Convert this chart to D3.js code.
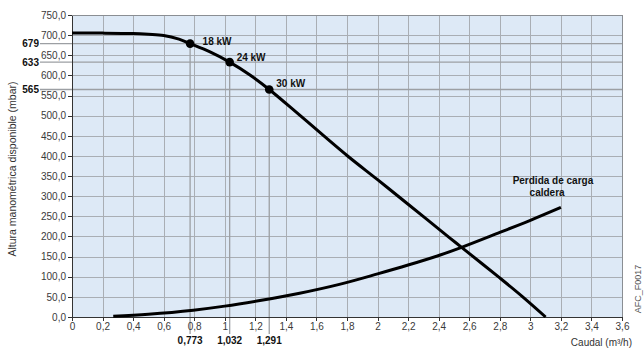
<!DOCTYPE html>
<meta charset="utf-8">
<style>
body { margin: 0; background: #fff; }
svg { font-family: "Liberation Sans", Arial, sans-serif; }
.grid line { stroke: #a9aeb4; stroke-width: 1px; shape-rendering: crispEdges; }
.axis text { font-size: 10px; fill: #3a3a3a; }
.axis path, .axis line { stroke: #333; shape-rendering: crispEdges; }
.mark { stroke: #9c9fa3; stroke-width: 1.3px; }
.curve { fill: none; stroke: #000; stroke-width: 3px; }
.lbl { font-size: 10px; font-weight: bold; fill: #111; }
</style>
<body>
<svg width="644" height="351"></svg>
<script src="https://cdn.jsdelivr.net/npm/d3@7"></script>
<script>
// pump curve (caudal m3/h, mbar)
var pumpQ = [0, 0.2, 0.4, 0.5, 0.6, 0.7, 0.773, 0.9, 1.032, 1.165, 1.291, 1.5, 1.8, 2.0, 2.2, 2.474, 2.55, 2.8, 2.95, 3.1];
var pumpH = [705, 705, 704, 702, 699, 690, 679, 659, 633, 601, 565, 498, 401, 341, 280, 196, 173, 97, 50, 0];

// boiler pressure loss
var lossQ = [0.27, 0.5, 0.794, 1.0, 1.23, 1.49, 1.75, 2.0, 2.2, 2.41, 2.55, 2.8, 3.0, 3.2];
var lossH = [2, 7, 17, 27, 41, 59, 81, 107, 129, 154, 173, 210, 240, 272];

// operating points
var ptQ = [0.773, 1.032, 1.291];
var ptH = [679, 633, 565];
var ptLabel = ["18 kW", "24 kW", "30 kW"];
var ptQText = ["0,773", "1,032", "1,291"];

var xTicks = d3.range(0, 3.61, 0.2);
var yTicks = d3.range(0, 751, 50);

var svg = d3.select("svg");
var x = d3.scaleLinear().domain([0, 3.6]).range([72, 622]);
var y = d3.scaleLinear().domain([0, 750]).range([317, 15]);
var comma = function(v, d) { return v.toFixed(d).replace(".", ","); };

svg.append("rect")
    .attr("x", x(0)).attr("y", y(750))
    .attr("width", x(3.6) - x(0)).attr("height", y(0) - y(750))
    .attr("fill", "#dde9f6");

var grid = svg.append("g").attr("class", "grid");
grid.selectAll(".v").data(xTicks).enter().append("line")
    .attr("x1", d => Math.round(x(d)) + 0.5).attr("x2", d => Math.round(x(d)) + 0.5)
    .attr("y1", y(750)).attr("y2", y(0));
grid.selectAll(".h").data(yTicks).enter().append("line")
    .attr("x1", x(0)).attr("x2", x(3.6))
    .attr("y1", d => Math.round(y(d)) + 0.5).attr("y2", d => Math.round(y(d)) + 0.5);

// marker lines for the operating points
svg.selectAll(".mh").data(ptH).enter().append("line")
    .attr("class", "mark")
    .attr("x1", 40).attr("x2", x(3.6))
    .attr("y1", d => y(d)).attr("y2", d => y(d));
svg.selectAll(".mv").data(ptQ).enter().append("line")
    .attr("class", "mark")
    .attr("x1", d => x(d)).attr("x2", d => x(d))
    .attr("y1", (d, i) => y(ptH[i])).attr("y2", 334);

svg.append("g").attr("class", "axis")
    .attr("transform", "translate(" + x(0) + ",0)")
    .call(d3.axisLeft(y).tickValues(yTicks).tickSize(4).tickFormat(d => comma(d, 1)))
    .call(g => g.selectAll("text").attr("dx", "1"));
svg.append("g").attr("class", "axis")
    .attr("transform", "translate(0," + y(0) + ")")
    .call(d3.axisBottom(x).tickValues(xTicks).tickSize(4).tickFormat(d => d3.format("~g")(+d.toFixed(1)).replace(".", ",")))
    .call(g => g.selectAll("text").attr("dy", "0.6em"));
svg.selectAll(".axis path").attr("stroke-width", 1.5);
svg.append("line")
    .attr("x1", x(3.6) + 0.5).attr("x2", x(3.6) + 0.5).attr("y1", y(750)).attr("y2", y(0))
    .attr("stroke", "#8a8e93");
svg.append("line")
    .attr("x1", x(0)).attr("x2", x(3.6)).attr("y1", y(750) + 0.5).attr("y2", y(750) + 0.5)
    .attr("stroke", "#8a8e93");

var line = d3.line().curve(d3.curveCatmullRom.alpha(0.5))
    .x(d => x(d[0])).y(d => y(d[1]));
svg.append("path").attr("class", "curve")
    .attr("d", line(pumpQ.map((q, i) => [q, pumpH[i]])));
svg.append("path").attr("class", "curve")
    .attr("d", line(lossQ.map((q, i) => [q, lossH[i]])));

svg.selectAll(".pt").data(ptQ).enter().append("circle")
    .attr("cx", d => x(d)).attr("cy", (d, i) => y(ptH[i])).attr("r", 4.3)
    .attr("fill", "#000");
var lblDx = [12.5, 7, 7], lblDy = [-2, -4.5, -6];
svg.selectAll(".ptl").data(ptLabel).enter().append("text")
    .attr("class", "lbl")
    .attr("x", (d, i) => x(ptQ[i]) + lblDx[i]).attr("y", (d, i) => y(ptH[i]) + lblDy[i])
    .attr("dy", "0.35em")
    .text(d => d);
svg.selectAll(".ptq").data(ptQText).enter().append("text")
    .attr("class", "lbl")
    .attr("x", d => x(+d.replace(",", "."))).attr("y", 344)
    .attr("text-anchor", "middle")
    .text(d => d);
svg.selectAll(".pth").data(ptH).enter().append("text")
    .attr("class", "lbl")
    .attr("x", 39).attr("y", d => y(d))
    .attr("dy", "0.35em")
    .attr("text-anchor", "end")
    .text(d => d);

svg.append("text").attr("class", "lbl")
    .attr("x", x(3.148)).attr("y", y(338))
    .attr("dy", "0.35em")
    .attr("text-anchor", "middle").text("Perdida de carga");
svg.append("text").attr("class", "lbl")
    .attr("x", x(3.11)).attr("y", y(308))
    .attr("dy", "0.35em")
    .attr("text-anchor", "middle").text("caldera");

svg.append("text")
    .attr("transform", "translate(16,169) rotate(-90)")
    .attr("text-anchor", "middle")
    .attr("font-size", 10.5).attr("fill", "#333")
    .text("Altura manométrica disponible (mbar)");
svg.append("text")
    .attr("x", 632).attr("y", 346)
    .attr("text-anchor", "end")
    .attr("font-size", 10).attr("fill", "#333")
    .text("Caudal (m³/h)");
svg.append("text")
    .attr("transform", "translate(641,289) rotate(-90)")
    .attr("text-anchor", "middle")
    .attr("font-size", 9).attr("fill", "#555")
    .text("AFC_F0017");
</script>
</body>
